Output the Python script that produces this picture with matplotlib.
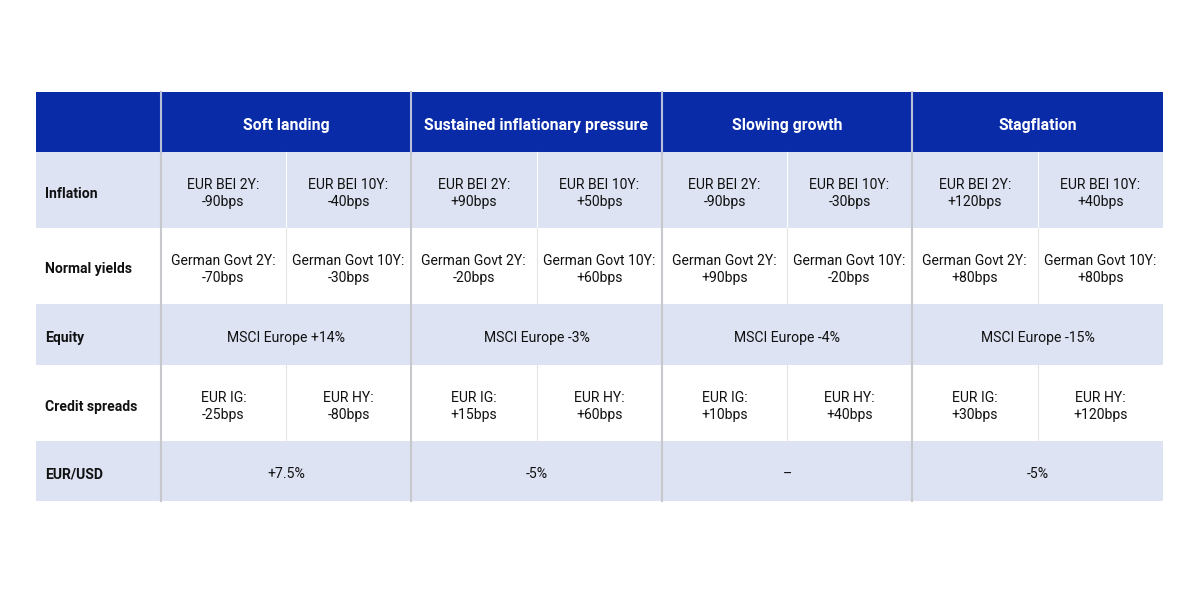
import matplotlib.pyplot as plt
from matplotlib.patches import Rectangle

plt.rcParams['font.family'] = ['Roboto', 'DejaVu Sans']

scenarios = ['Soft landing', 'Sustained inflationary pressure', 'Slowing growth', 'Stagflation']
row_labels = ['Inflation', 'Normal yields', 'Equity', 'Credit spreads', 'EUR/USD']

inflation = [('EUR BEI 2Y:\n-90bps', 'EUR BEI 10Y:\n-40bps'),
             ('EUR BEI 2Y:\n+90bps', 'EUR BEI 10Y:\n+50bps'),
             ('EUR BEI 2Y:\n-90bps', 'EUR BEI 10Y:\n-30bps'),
             ('EUR BEI 2Y:\n+120bps', 'EUR BEI 10Y:\n+40bps')]
yields = [('German Govt 2Y:\n-70bps', 'German Govt 10Y:\n-30bps'),
          ('German Govt 2Y:\n-20bps', 'German Govt 10Y:\n+60bps'),
          ('German Govt 2Y:\n+90bps', 'German Govt 10Y:\n-20bps'),
          ('German Govt 2Y:\n+80bps', 'German Govt 10Y:\n+80bps')]
equity = ['MSCI Europe +14%', 'MSCI Europe -3%', 'MSCI Europe -4%', 'MSCI Europe -15%']
credit = [('EUR IG:\n-25bps', 'EUR HY:\n-80bps'),
          ('EUR IG:\n+15bps', 'EUR HY:\n+60bps'),
          ('EUR IG:\n+10bps', 'EUR HY:\n+40bps'),
          ('EUR IG:\n+30bps', 'EUR HY:\n+120bps')]
eurusd = ['+7.5%', '-5%', '\u2013', '-5%']

rows = [inflation, yields, equity, credit, eurusd]

# layout in pixels
col_x = [36, 161, 411, 662, 912, 1163]
row_y = [92, 152, 228, 304, 365, 441, 501]
header_col = '#0a2ba8'
shade = '#dde3f3'
dy = 3.5  # nudge text down to sit like the original

fig = plt.figure(figsize=(12, 6), dpi=100)
ax = fig.add_axes([0, 0, 1, 1])
ax.set_xlim(0, 1200)
ax.set_ylim(600, 0)
ax.axis('off')

# header
ax.add_patch(Rectangle((col_x[0], row_y[0]), col_x[-1] - col_x[0], row_y[1] - row_y[0],
                       color=header_col, lw=0))
for i, s in enumerate(scenarios):
    xc = (col_x[i + 1] + col_x[i + 2]) / 2
    ax.text(xc, (row_y[0] + row_y[1]) / 2 + dy, s, color='white', fontsize=11.4,
            fontweight='bold', ha='center', va='center')

for r, (lab, vals) in enumerate(zip(row_labels, rows)):
    y0, y1 = row_y[r + 1], row_y[r + 2]
    yc = (y0 + y1) / 2 + dy
    if r % 2 == 0:
        ax.add_patch(Rectangle((col_x[0], y0), col_x[-1] - col_x[0], y1 - y0,
                               color=shade, lw=0))
    ax.text(col_x[0] + 9, yc, lab, fontsize=10.1, fontweight='bold', color='#111111',
            ha='left', va='center')
    for i, v in enumerate(vals):
        xa, xb = col_x[i + 1], col_x[i + 2]
        if isinstance(v, tuple):
            xm = (xa + xb) / 2
            sep = 'white' if r % 2 == 0 else '#e4e4e4'
            ax.plot([xm, xm], [y0, y1], color=sep, lw=0.8)
            ax.text((xa + xm) / 2, yc, v[0], fontsize=10.1, color='#111111',
                    ha='center', va='center', linespacing=1.25)
            ax.text((xm + xb) / 2, yc, v[1], fontsize=10.1, color='#111111',
                    ha='center', va='center', linespacing=1.25)
        else:
            ax.text((xa + xb) / 2, yc, v, fontsize=10.1, color='#111111',
                    ha='center', va='center')

# major column separators
for x in col_x[1:-1]:
    ax.plot([x, x], [row_y[1], row_y[-1]], color='#c6c8cc', lw=1.5)
    ax.plot([x, x], [row_y[0], row_y[1]], color='#b8bfd8', lw=1.5)

fig.savefig('out.png', dpi=100)
